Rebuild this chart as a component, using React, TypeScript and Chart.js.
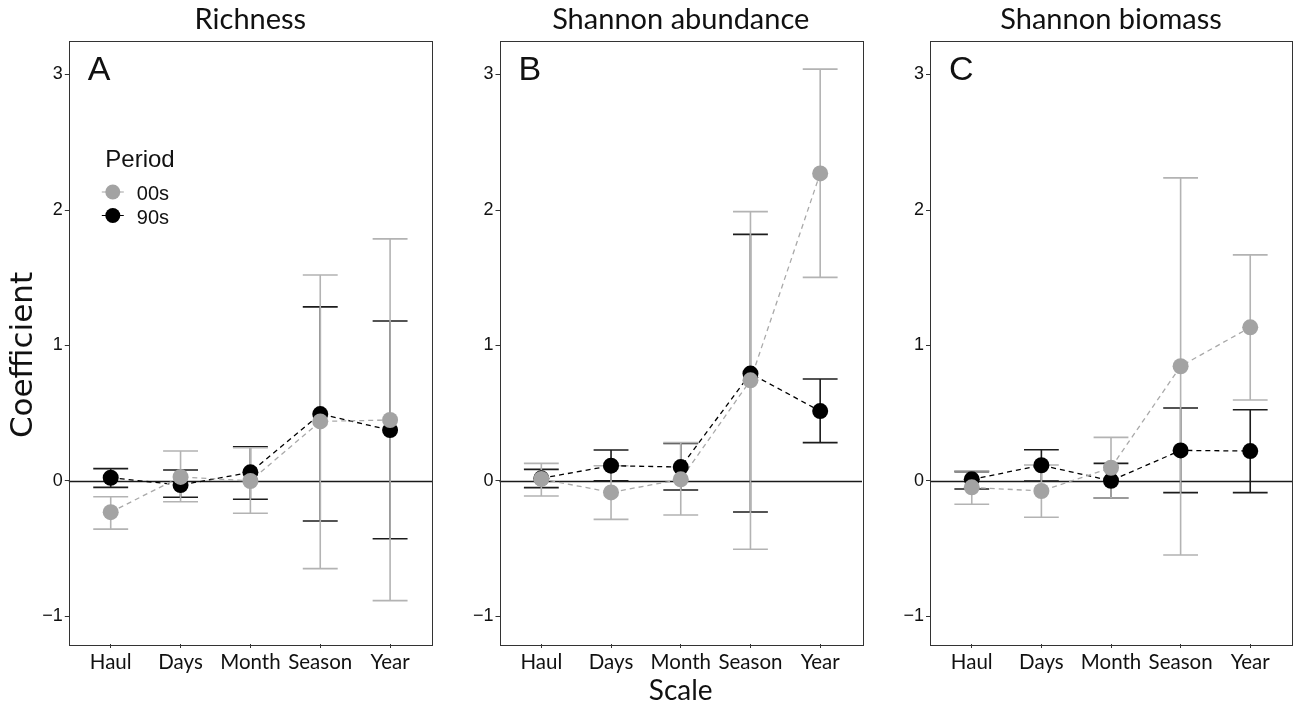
import { useEffect, useRef } from 'react';
import { Chart, registerables } from 'chart.js';

Chart.register(...registerables);

// ---------------- data ----------------
const categories = ['Haul', 'Days', 'Month', 'Season', 'Year'];
const yTicks = [-1, 0, 1, 2, 3];
const periods = ['00s', '90s'];
const panelTitles = ['Richness', 'Shannon abundance', 'Shannon biomass'];
const panelLetters = ['A', 'B', 'C'];

// Richness
const richness00 = [-0.23, 0.03, 0.0, 0.44, 0.45];
const richness00Lo = [-0.355, -0.153, -0.238, -0.647, -0.883];
const richness00Hi = [-0.116, 0.221, 0.245, 1.52, 1.787];
const richness90 = [0.024, -0.03, 0.064, 0.494, 0.376];
const richness90Lo = [-0.047, -0.12, -0.135, -0.295, -0.426];
const richness90Hi = [0.091, 0.081, 0.253, 1.285, 1.181];

// Shannon abundance
const abund00 = [0.015, -0.084, 0.012, 0.743, 2.27];
const abund00Lo = [-0.111, -0.283, -0.251, -0.504, 1.503];
const abund00Hi = [0.13, 0.113, 0.283, 1.988, 3.04];
const abund90 = [0.02, 0.113, 0.103, 0.793, 0.516];
const abund90Lo = [-0.049, 0.002, -0.066, -0.229, 0.283];
const abund90Hi = [0.086, 0.229, 0.277, 1.82, 0.753];

// Shannon biomass
const biomass00 = [-0.047, -0.074, 0.098, 0.847, 1.134];
const biomass00Lo = [-0.172, -0.268, -0.126, -0.546, 0.598];
const biomass00Hi = [0.075, 0.118, 0.322, 2.237, 1.669];
const biomass90 = [0.012, 0.116, 0.002, 0.226, 0.221];
const biomass90Lo = [-0.059, 0.0, -0.125, -0.086, -0.086];
const biomass90Hi = [0.069, 0.231, 0.13, 0.539, 0.526];

const panelData = [
  { v00: richness00, lo00: richness00Lo, hi00: richness00Hi, v90: richness90, lo90: richness90Lo, hi90: richness90Hi },
  { v00: abund00, lo00: abund00Lo, hi00: abund00Hi, v90: abund90, lo90: abund90Lo, hi90: abund90Hi },
  { v00: biomass00, lo00: biomass00Lo, hi00: biomass00Hi, v90: biomass90, lo90: biomass90Lo, hi90: biomass90Hi },
];

// ---------------- style / layout ----------------
const GRAY_PT = '#a3a3a3';
const GRAY_BAR = '#b3b3b3';
const GRAY_LINE = '#a9a9a9';
const BLACK_PT = '#000000';
const BLACK_BAR = '#1c1c1c';
const CAP_HALF = 0.25;
const Y_MIN = -1.203;
const Y_MAX = 3.251;
const TEXT = '#111111';
const SANS = '"Liberation Sans", Arial, sans-serif';
const HUMAN = 'Lato, "Open Sans", sans-serif';

const layouts = [
  { left: 0, width: 440, yw: 68.8, pr: 5.6 },
  { left: 440, width: 430, yw: 59.5, pr: 4.5 },
  { left: 870, width: 430, yw: 60, pr: 4.4 },
];

const H = 708;

const decorPlugin = {
  id: 'panelDecor',
  beforeDatasetsDraw(chart: any) {
    const { ctx, chartArea: a, scales } = chart;
    const x = scales.x;
    const y = scales.y;
    ctx.save();
    // zero line
    const y0 = Math.round(y.getPixelForValue(0)) + 0.5;
    ctx.strokeStyle = '#1a1a1a';
    ctx.lineWidth = 1.3;
    ctx.beginPath();
    ctx.moveTo(a.left, y0);
    ctx.lineTo(a.right, y0);
    ctx.stroke();
    // error bars (90s first, then 00s on top)
    const sets = chart.data.datasets.filter((d: any) => d.errLo).slice().reverse();
    for (const d of sets) {
      ctx.strokeStyle = d.errColor;
      ctx.lineWidth = 1.6;
      d.data.forEach((p: any, i: number) => {
        const px = x.getPixelForValue(p.x);
        const xl = x.getPixelForValue(p.x - CAP_HALF);
        const xr = x.getPixelForValue(p.x + CAP_HALF);
        const yl = y.getPixelForValue(d.errLo[i]);
        const yh = y.getPixelForValue(d.errHi[i]);
        ctx.beginPath();
        ctx.moveTo(px, yl);
        ctx.lineTo(px, yh);
        ctx.moveTo(xl, yl);
        ctx.lineTo(xr, yl);
        ctx.moveTo(xl, yh);
        ctx.lineTo(xr, yh);
        ctx.stroke();
      });
    }
    ctx.restore();
  },
  afterDraw(chart: any) {
    const { ctx, chartArea: a } = chart;
    const o = chart.options.plugins.panelDecor || {};
    ctx.save();
    // panel border
    ctx.strokeStyle = '#333333';
    ctx.lineWidth = 1;
    ctx.strokeRect(Math.round(a.left) + 0.5, Math.round(a.top) + 0.5, Math.round(a.right - a.left), Math.round(a.bottom - a.top));
    // panel letter
    ctx.fillStyle = TEXT;
    ctx.font = `34px ${SANS}`;
    ctx.textAlign = 'left';
    ctx.textBaseline = 'alphabetic';
    ctx.fillText(o.letter, a.left + 19, 80);
    if (o.legend) {
      ctx.font = `24px ${SANS}`;
      ctx.fillText('Period', a.left + 36.5, 167);
      const cols = [GRAY_PT, BLACK_PT];
      periods.forEach((p, i) => {
        const cy = 192 + i * 23.5;
        const cx = a.left + 44;
        ctx.strokeStyle = cols[i];
        ctx.lineWidth = 1;
        ctx.beginPath();
        ctx.moveTo(cx - 11, cy);
        ctx.lineTo(cx + 11, cy);
        ctx.stroke();
        ctx.fillStyle = cols[i];
        ctx.beginPath();
        ctx.arc(cx, cy, 7.5, 0, Math.PI * 2);
        ctx.fill();
        ctx.fillStyle = TEXT;
        ctx.font = `20px ${SANS}`;
        ctx.fillText(p, a.left + 68, cy + 8);
      });
    }
    if (o.yLabel) {
      ctx.save();
      ctx.translate(24, 355);
      ctx.rotate(-Math.PI / 2);
      ctx.font = `31px "DejaVu Sans", sans-serif`;
      ctx.fillStyle = TEXT;
      ctx.textAlign = 'center';
      ctx.textBaseline = 'middle';
      ctx.fillText(o.yLabel, 0, 0);
      ctx.restore();
    }
    ctx.restore();
  },
};

function Panel({ idx }: { idx: number }) {
  const ref = useRef<HTMLCanvasElement | null>(null);
  useEffect(() => {
    const L = layouts[idx];
    const d = panelData[idx];
    const pts = (vals: number[]) => vals.map((v, i) => ({ x: i + 1, y: v }));
    const chart = new Chart(ref.current as HTMLCanvasElement, {
      type: 'line',
      data: {
        datasets: [
          {
            label: periods[0],
            data: pts(d.v00),
            showLine: false,
            pointRadius: 8,
            pointHoverRadius: 8,
            pointBorderWidth: 0,
            pointBackgroundColor: GRAY_PT,
            borderColor: GRAY_PT,
            errLo: d.lo00,
            errHi: d.hi00,
            errColor: GRAY_BAR,
          } as any,
          {
            label: periods[1],
            data: pts(d.v90),
            showLine: false,
            pointRadius: 8,
            pointHoverRadius: 8,
            pointBorderWidth: 0,
            pointBackgroundColor: BLACK_PT,
            borderColor: BLACK_PT,
            errLo: d.lo90,
            errHi: d.hi90,
            errColor: BLACK_BAR,
          } as any,
          {
            label: periods[0] + ' line',
            data: pts(d.v00),
            borderColor: GRAY_LINE,
            borderWidth: 1.3,
            borderDash: [5, 4],
            pointRadius: 0,
            tension: 0,
            fill: false,
          },
          {
            label: periods[1] + ' line',
            data: pts(d.v90),
            borderColor: '#000000',
            borderWidth: 1.3,
            borderDash: [5, 4],
            pointRadius: 0,
            tension: 0,
            fill: false,
          },
        ],
      },
      options: {
        responsive: false,
        animation: false,
        events: [],
        layout: { padding: { left: 0, right: L.pr, top: 0, bottom: 0 } },
        scales: {
          x: {
            type: 'linear',
            min: 0.4,
            max: 5.6,
            afterBuildTicks: (s: any) => {
              s.ticks = categories.map((_, i) => ({ value: i + 1 }));
            },
            afterFit: (s: any) => {
              s.height = H - 644;
            },
            ticks: {
              autoSkip: false,
              maxRotation: 0,
              padding: 2,
              color: TEXT,
              font: { family: HUMAN, size: 20.5 },
              callback: (v: any) => categories[Math.round(Number(v)) - 1] ?? '',
            },
            grid: { drawOnChartArea: false, drawTicks: true, tickLength: 4, color: '#333333' },
            border: { display: false },
            title: {
              display: idx === 1,
              text: 'Scale',
              color: TEXT,
              font: { family: HUMAN, size: 28 },
              padding: { top: 0, bottom: 0 },
            },
          },
          y: {
            type: 'linear',
            min: Y_MIN,
            max: Y_MAX,
            afterBuildTicks: (s: any) => {
              s.ticks = yTicks.map((v) => ({ value: v }));
            },
            afterFit: (s: any) => {
              s.width = L.yw;
            },
            ticks: {
              padding: 2,
              color: TEXT,
              font: { family: SANS, size: 18 },
              callback: (v: any) => (Number(v) < 0 ? '\u2212' + Math.abs(Number(v)) : String(v)),
            },
            grid: { drawOnChartArea: false, drawTicks: true, tickLength: 4, color: '#333333' },
            border: { display: false },
          },
        },
        plugins: {
          legend: { display: false },
          tooltip: { enabled: false },
          title: {
            display: true,
            text: panelTitles[idx],
            fullSize: false,
            color: TEXT,
            font: { family: HUMAN, size: 29, weight: 'normal' },
            padding: { top: 1.8, bottom: 3.9 },
          },
          panelDecor: { letter: panelLetters[idx], legend: idx === 0, yLabel: idx === 0 ? 'Coefficient' : '' },
        } as any,
      },
      plugins: [decorPlugin],
    });
    return () => chart.destroy();
  }, [idx]);
  const L = layouts[idx];
  return (
    <canvas
      ref={ref}
      width={L.width}
      height={H}
      style={{ position: 'absolute', left: L.left, top: 0, width: L.width, height: H }}
    />
  );
}

export default function App() {
  return (
    <div
      style={{
        position: 'fixed',
        left: 0,
        top: 0,
        width: 1293,
        height: H,
        overflow: 'hidden',
        background: '#ffffff',
      }}
    >
      {[0, 1, 2].map((i) => (
        <Panel key={i} idx={i} />
      ))}
    </div>
  );
}
